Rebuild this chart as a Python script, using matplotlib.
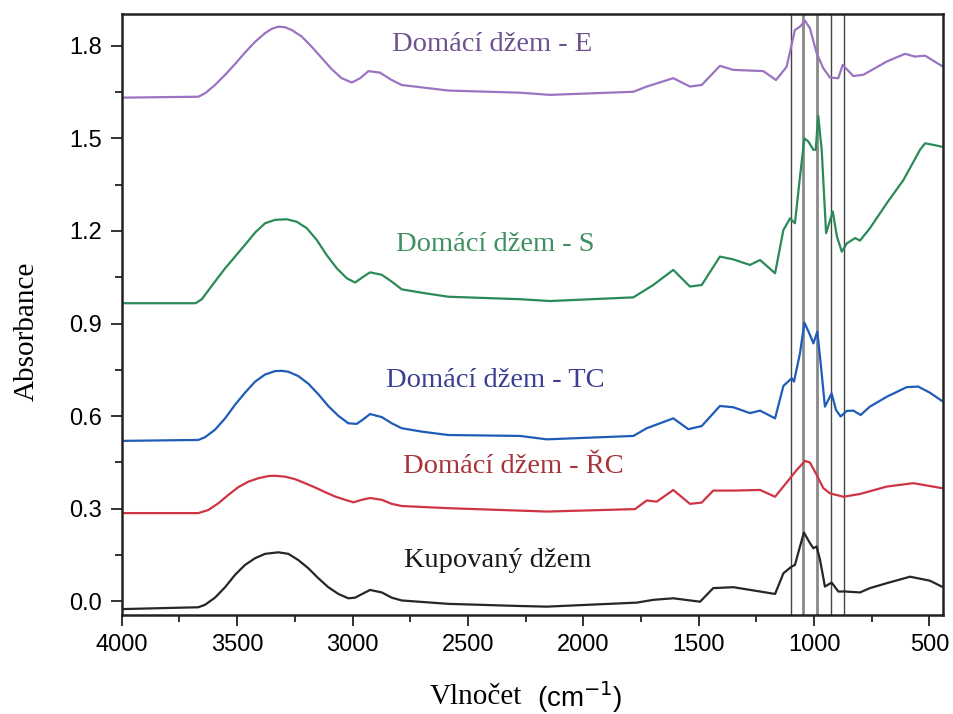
import numpy as np
import matplotlib.pyplot as plt

# vlnočty a absorbance jednotlivých vzorků
wn_e = [4000, 3668, 3639, 3596, 3552, 3509, 3466, 3422, 3379, 3350, 3321, 3292, 3263, 3220, 3177,
        3133, 3090, 3047, 3003, 2967, 2931, 2881, 2830, 2787, 2585, 2274, 2144, 1783, 1725, 1610,
        1538, 1487, 1408, 1350, 1220, 1165, 1119, 1083, 1061, 1039, 1018, 989, 960, 931, 895,
        876, 830, 787, 685, 606, 563, 519, 447]
ab_e = [1.632, 1.635, 1.646, 1.673, 1.706, 1.741, 1.778, 1.813, 1.841, 1.855, 1.862, 1.860, 1.851, 1.830, 1.797,
        1.760, 1.724, 1.695, 1.681, 1.695, 1.718, 1.713, 1.689, 1.673, 1.655, 1.648, 1.641, 1.651, 1.668, 1.695,
        1.668, 1.673, 1.735, 1.722, 1.718, 1.689, 1.732, 1.851, 1.862, 1.881, 1.857, 1.776, 1.727, 1.697, 1.695,
        1.738, 1.702, 1.706, 1.749, 1.774, 1.765, 1.768, 1.735]

wn_s = [4000, 3680, 3653, 3596, 3552, 3509, 3466, 3422, 3379, 3336, 3285, 3242, 3198, 3155, 3112,
        3068, 3025, 2989, 2953, 2924, 2873, 2830, 2787, 2700, 2585, 2274, 2144, 1783, 1697, 1610,
        1538, 1487, 1408, 1350, 1278, 1234, 1169, 1133, 1104, 1083, 1061, 1042, 1025, 1003, 993,
        982, 967, 948, 919, 901, 880, 858, 822, 801, 758, 685, 613, 541, 519, 483, 447]
ab_s = [0.966, 0.966, 0.979, 1.036, 1.079, 1.117, 1.155, 1.195, 1.225, 1.236, 1.238, 1.230, 1.209, 1.171, 1.122,
        1.079, 1.047, 1.033, 1.052, 1.066, 1.058, 1.036, 1.011, 1.000, 0.987, 0.979, 0.973, 0.985, 1.025, 1.074,
        1.020, 1.025, 1.117, 1.108, 1.090, 1.106, 1.063, 1.203, 1.241, 1.225, 1.376, 1.500, 1.490, 1.463, 1.463,
        1.573, 1.463, 1.193, 1.263, 1.182, 1.133, 1.160, 1.177, 1.169, 1.209, 1.290, 1.365, 1.463, 1.484, 1.479,
        1.473]

wn_tc = [4000, 3668, 3639, 3596, 3552, 3509, 3466, 3422, 3379, 3336, 3307, 3278, 3235, 3191, 3148,
         3105, 3061, 3018, 2982, 2953, 2924, 2873, 2830, 2787, 2700, 2585, 2274, 2158, 1783, 1725,
         1610, 1545, 1487, 1408, 1350, 1278, 1234, 1169, 1133, 1097, 1087, 1061, 1042, 1021, 1003,
         986, 970, 953, 924, 905, 885, 859, 830, 798, 758, 685, 599, 549, 498, 447]
ab_tc = [0.520, 0.523, 0.532, 0.556, 0.593, 0.637, 0.676, 0.712, 0.735, 0.746, 0.747, 0.744, 0.730, 0.705, 0.671,
         0.633, 0.601, 0.577, 0.575, 0.590, 0.607, 0.597, 0.577, 0.561, 0.550, 0.539, 0.536, 0.525, 0.536, 0.561,
         0.593, 0.558, 0.568, 0.633, 0.629, 0.610, 0.618, 0.593, 0.698, 0.723, 0.712, 0.804, 0.903, 0.869, 0.836,
         0.874, 0.761, 0.631, 0.674, 0.620, 0.599, 0.617, 0.618, 0.604, 0.631, 0.663, 0.694, 0.696, 0.676, 0.650]

wn_rc = [4000, 3668, 3625, 3581, 3538, 3495, 3451, 3408, 3365, 3336, 3292, 3249, 3206, 3162, 3119,
         3076, 3032, 2996, 2960, 2924, 2873, 2830, 2787, 2585, 2274, 2158, 1776, 1725, 1682, 1610,
         1538, 1487, 1437, 1350, 1234, 1169, 1119, 1075, 1039, 1018, 989, 960, 931, 873, 801,
         685, 570, 447]
ab_rc = [0.286, 0.286, 0.296, 0.318, 0.345, 0.370, 0.388, 0.399, 0.406, 0.407, 0.404, 0.396, 0.383, 0.369, 0.354,
         0.340, 0.329, 0.321, 0.329, 0.335, 0.329, 0.316, 0.309, 0.302, 0.294, 0.291, 0.299, 0.327, 0.323, 0.361,
         0.316, 0.320, 0.359, 0.359, 0.361, 0.339, 0.385, 0.426, 0.455, 0.450, 0.410, 0.367, 0.350, 0.339, 0.348,
         0.372, 0.383, 0.367]

wn_k = [4000, 3668, 3639, 3596, 3552, 3509, 3466, 3422, 3379, 3321, 3278, 3235, 3191, 3148, 3105,
        3061, 3018, 2989, 2953, 2924, 2873, 2830, 2787, 2585, 2274, 2158, 1768, 1697, 1610, 1494,
        1437, 1350, 1234, 1169, 1133, 1097, 1083, 1061, 1044, 1018, 1003, 989, 974, 953, 924,
        895, 866, 801, 758, 685, 584, 498, 447]
ab_k = [-0.025, -0.019, -0.011, 0.012, 0.046, 0.086, 0.118, 0.140, 0.154, 0.159, 0.154, 0.134, 0.107, 0.075, 0.046,
        0.024, 0.010, 0.012, 0.026, 0.037, 0.029, 0.012, 0.003, -0.008, -0.015, -0.017, -0.004, 0.005, 0.010, -0.001,
        0.043, 0.046, 0.032, 0.024, 0.091, 0.113, 0.118, 0.178, 0.223, 0.189, 0.172, 0.178, 0.134, 0.048, 0.061,
        0.032, 0.032, 0.029, 0.043, 0.059, 0.080, 0.067, 0.048]

band_lines = [1100, 1050, 987, 925, 872]

labels = ["Domácí džem - E", "Domácí džem - S", "Domácí džem - TC", "Domácí džem - ŘC", "Kupovaný džem"]
line_colors = ["#9a74c2", "#2b8a57", "#1f5cb8", "#cf3443", "#262626"]
text_colors = ["#6e5290", "#3f8f60", "#3b3f92", "#a8343a", "#1a1a1a"]
label_pos = [(2395, 1.803), (2382, 1.155), (2382, 0.717), (2305, 0.436), (2370, 0.134)]

fig = plt.figure(figsize=(9.54, 7.14), dpi=100)
ax = fig.add_axes([0.1276, 0.1387, 0.8612, 0.8417])

series = [(wn_e, ab_e), (wn_s, ab_s), (wn_tc, ab_tc), (wn_rc, ab_rc), (wn_k, ab_k)]
for (w, a), c in zip(series, line_colors):
    ax.plot(w, a, color=c, lw=1.6, solid_joinstyle='round')

for i, b in enumerate(band_lines):
    if i in (1, 2):
        ax.axvline(b, color="#8a8a8a", lw=2.0, zorder=0)
    else:
        ax.axvline(b, color="#444444", lw=1.0, zorder=0)

for t, (x, y), c in zip(labels, label_pos, text_colors):
    ax.text(x, y, t, color=c, fontsize=20.5, family="Liberation Serif", ha="center", va="center")

ax.set_xlim(4000, 440)
ax.set_ylim(-0.044, 1.903)
ax.set_xticks([4000, 3500, 3000, 2500, 2000, 1500, 1000, 500])
ax.set_xticks(np.arange(3750, 400, -500), minor=True)
ax.set_yticks([0.0, 0.3, 0.6, 0.9, 1.2, 1.5, 1.8])
ax.set_yticklabels(["0.0", "0.3", "0.6", "0.9", "1.2", "1.5", "1.8"])
ax.set_yticks(np.arange(0.15, 1.9, 0.3), minor=True)
ax.tick_params(which="both", direction="out", top=False, right=False, width=1.3, color="#222222")
ax.tick_params(which="major", length=8, labelsize=17, pad=6)
ax.tick_params(which="minor", length=5)
for lab in ax.get_xticklabels() + ax.get_yticklabels():
    lab.set_family("Liberation Sans")
for s in ax.spines.values():
    s.set_linewidth(1.8)
    s.set_color("#222222")

fig.text(0.028, 0.536, "Absorbance", rotation=90, fontsize=21, family="Liberation Serif",
         ha="center", va="center")
fig.text(0.547, 0.024, "Vlnočet", fontsize=21, family="Liberation Serif", ha="right", va="center")
fig.text(0.563, 0.024, "(cm$^{-1}$)", fontsize=20, family="Liberation Sans", ha="left", va="center")

fig.savefig("out.png", dpi=100)
